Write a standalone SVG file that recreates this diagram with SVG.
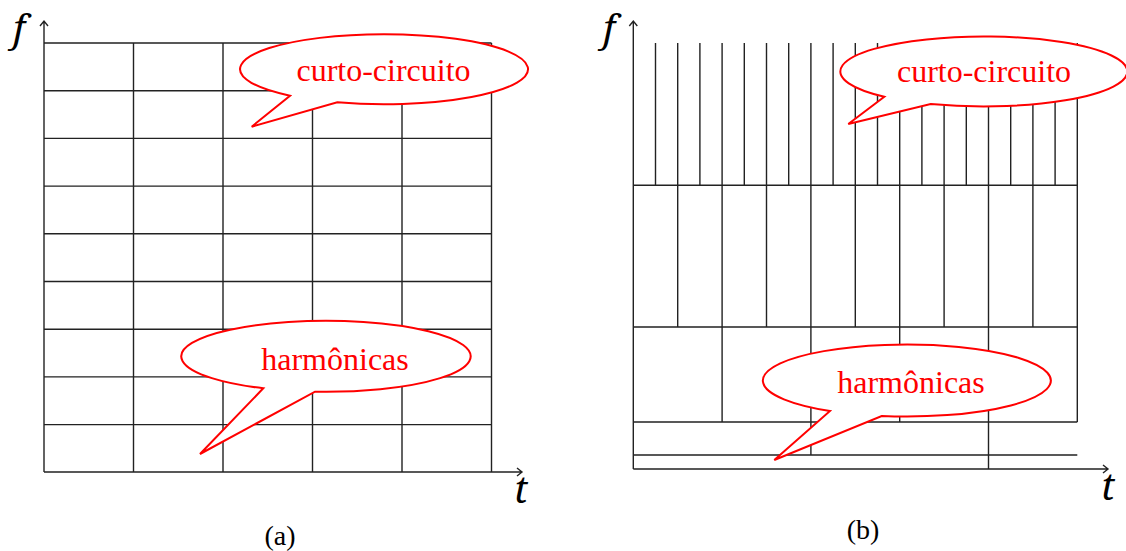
<svg xmlns="http://www.w3.org/2000/svg" width="1126" height="551" viewBox="0 0 1126 551">
<style>
.g{stroke:#222;stroke-width:1.4;fill:none}
.ax{stroke:#222;stroke-width:1.4;fill:none}
.bub{fill:#fff;stroke:#f00;stroke-width:2;stroke-linejoin:miter}
.bt{font-family:"Liberation Serif","Times New Roman",serif;font-size:32px;fill:#f00;text-anchor:middle}
.var{font-family:"Noto Serif","Liberation Serif",serif;font-size:38px;font-style:italic;fill:#000}
.cap{font-family:"Liberation Serif","Times New Roman",serif;font-size:28px;fill:#000;text-anchor:middle}
</style>
<g id="panel-a">
<g id="grid-a" class="g">
<path d="M44 43H491.5M44 90.7H491.5M44 138.4H491.5M44 186.1H491.5M44 233.8H491.5M44 281.5H491.5M44 329.2H491.5M44 376.9H491.5M44 424.6H491.5"/>
<path d="M133.5 43V472M223 43V472M312.5 43V472M402 43V472M491.5 43V472"/>
</g>
<g id="axes-a" class="ax">
<path d="M44 472V21M40 26L44 21L48 26"/>
<path d="M44 472H522M517 468L522 472L517 476"/>
</g>
<text class="var" x="13" y="42">f</text>
<text class="var" x="514" y="503">t</text>
<text class="cap" x="280" y="545">(a)</text>
</g>
<g id="panel-b">
<g id="grid-b" class="g">
<path d="M655.5 43V185.3M677.7 43V185.3M699.9 43V185.3M722.1 43V185.3M744.3 43V185.3M766.5 43V185.3M788.7 43V185.3M810.9 43V185.3M833.1 43V185.3M855.3 43V185.3M877.5 43V185.3M899.7 43V185.3M921.9 43V185.3M944.1 43V185.3M966.3 43V185.3M988.5 43V185.3M1010.7 43V185.3M1032.9 43V185.3M1055.1 43V185.3M1077.3 43V422"/>
<path d="M633.3 185.3H1077.3M633.3 327H1077.3M633.3 422H1077.3M633.3 455H1077.3"/>
<path d="M677.7 185.3V327M722.1 185.3V422M766.5 185.3V327M810.9 185.3V455M855.3 185.3V327M899.7 185.3V422M944.1 185.3V327M988.5 185.3V469M1032.9 185.3V327"/>
</g>
<g id="axes-b" class="ax">
<path d="M633.3 469V21M629.3 26L633.3 21L637.3 26"/>
<path d="M633.3 469H1108M1103 465L1108 469L1103 473"/>
</g>
<text class="var" x="603" y="42">f</text>
<text class="var" x="1101" y="500">t</text>
<text class="cap" x="863" y="539">(b)</text>
</g>
<g id="callouts">
<g id="callout-a-curto">
<path class="bub" d="M337.3 102.3A144 35 0 1 0 290 95.7L251.7 126.7Z"/>
<text class="bt" x="383.5" y="81">curto-circuito</text>
</g>
<g id="callout-a-harm">
<path class="bub" d="M315 391.7A144.7 35.5 0 1 0 263.3 388.3L200 454Z"/>
<text class="bt" x="335" y="370">harmônicas</text>
</g>
<g id="callout-b-curto">
<path class="bub" d="M930.7 104A143.5 35 0 1 0 884.3 96.7L848.3 124Z"/>
<text class="bt" x="984" y="82">curto-circuito</text>
</g>
<g id="callout-b-harm">
<path class="bub" d="M881.7 416A144 36 0 1 0 830 411L774.3 460Z"/>
<text class="bt" x="911" y="393">harmônicas</text>
</g>
</g>
</svg>
